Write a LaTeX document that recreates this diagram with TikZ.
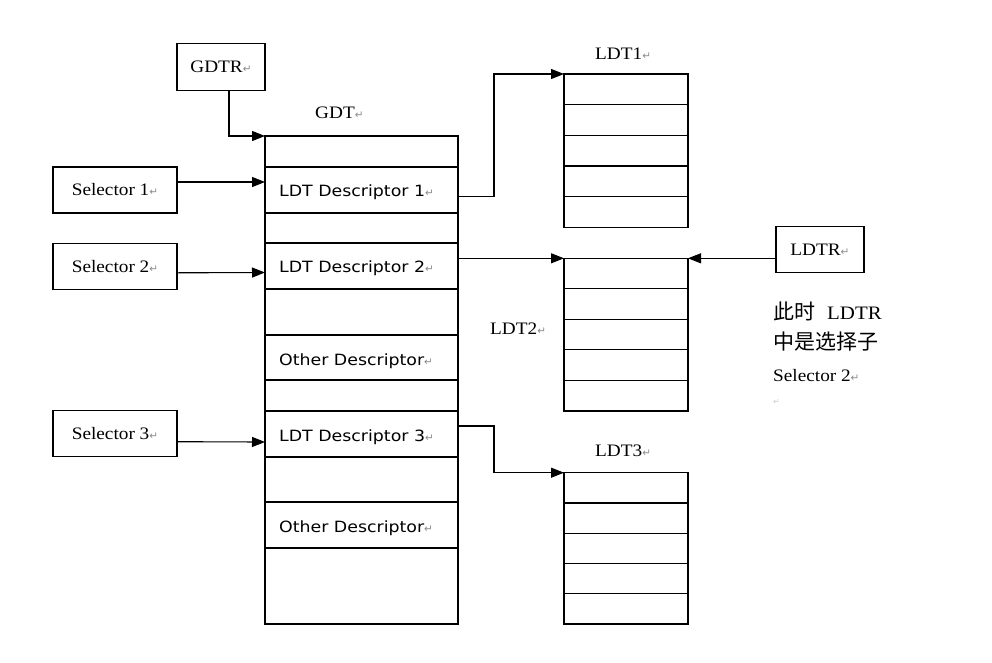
\documentclass[tikz,border=0pt]{standalone}
\usepackage{fontspec}
\usetikzlibrary{arrows.meta}
\newfontfamily\serf[FakeStretch=1.1]{Liberation Serif}
\newfontfamily\sanf[FakeStretch=1.12]{DejaVu Sans}
\newfontfamily\cjkf{Noto Sans CJK SC}
\newfontfamily\retfont{DejaVu Sans}
\newcommand\rmk{{\retfont\fontsize{10.5}{10.5}\selectfont\textcolor{black!45}{↵}}}
\begin{document}
\begin{tikzpicture}[x=1pt,y=-1pt,
  sbox/.style={draw,line width=1.1pt,inner sep=0,outer sep=0,font=\serf\fontsize{17.5}{20}\selectfont},
  gdtrow/.style={draw,line width=1.1pt,inner sep=0,outer sep=0,anchor=north west,minimum width=193pt},
  ldtrow/.style={draw,line width=1.1pt,inner sep=0,outer sep=0,anchor=north west,minimum width=124pt},
  arr/.style={line width=1.1pt,-{Triangle[length=13pt,width=10pt]}},
  lbl/.style={anchor=base west,inner sep=0,font=\serf\fontsize{17.5}{20}\selectfont},
  dlbl/.style={anchor=base west,inner sep=0,font=\sanf\fontsize{15.5}{18}\selectfont},
  cjk/.style={anchor=base west,inner sep=0,font=\cjkf\fontsize{21}{21}\selectfont}]
\path[fill=white] (0,0) rectangle (992,662);
\useasboundingbox (0,0) rectangle (992,662);

% GDT table
\foreach \t/\h [count=\i] in {136/31,167/46,213/30,243/46,289/46,335/45,380/31,411/46,457/45,502/46,548/76}
  \node[gdtrow,minimum height=\h pt] (g\i) at (265,\t) {};

% LDT tables
\foreach \n/\t/\h in {1/74/30.66,2/258.3/30.54,3/472.7/30.26}
  \foreach \k in {1,...,5}
    \node[ldtrow,minimum height=\h pt] (l\n-\k) at (564,{\t+(\k-1)*\h}) {};

% row texts
\node[dlbl] (t2) at ([xshift=14pt,yshift=-6.5pt]g2.west) {LDT Descriptor 1\rmk};
\node[dlbl] (t4) at ([xshift=14pt,yshift=-6.5pt]g4.west) {LDT Descriptor 2\rmk};
\node[dlbl] (t6) at ([xshift=14pt,yshift=-7.5pt]g6.west) {Other Descriptor\rmk};
\node[dlbl] (t8) at ([xshift=14pt,yshift=-7pt]g8.west) {LDT Descriptor 3\rmk};
\node[dlbl] (t10) at ([xshift=14pt,yshift=-7.5pt]g10.west) {Other Descriptor\rmk};

% titles
\node[lbl] (gdtlbl) at (315,118.3) {GDT\rmk};
\node[lbl] (ldt1lbl) at (595,59) {LDT1\rmk};
\node[lbl] (ldt2lbl) at (490,334) {LDT2\rmk};
\node[lbl] (ldt3lbl) at (595,456) {LDT3\rmk};

% boxes
\node[sbox,minimum width=88pt,minimum height=47.5pt] (gdtr) at (221,67) {GDTR\rmk};
\node[sbox,minimum width=88pt,minimum height=46pt] (ldtr) at (820,249.7) {LDTR\rmk};
\node[sbox,minimum width=124pt,minimum height=46pt] (sel1) at (115,190) {Selector 1\rmk};
\node[sbox,minimum width=124pt,minimum height=46pt] (sel2) at (115,266.3) {Selector 2\rmk};
\node[sbox,minimum width=124pt,minimum height=46pt] (sel3) at (115,433.7) {Selector 3\rmk};

% note
\node[lbl] (n1) at (773,319.5) {{\cjkf\fontsize{21}{21}\selectfont 此时}\hspace{12pt}{\fontsize{19}{20}\selectfont LDTR}};
\node[cjk] (n2) at (773,349) {中是选择子};
\node[lbl] (n3) at (773,381.7) {Selector 2\rmk};
\node[anchor=base west,inner sep=0,font=\retfont\fontsize{8}{8}\selectfont,text=black!20] (n4) at (773,404) {↵};

% connectors
\draw[arr] ([xshift=8pt]gdtr.south) |- (g1.north west);
\draw[arr] ([yshift=8pt]sel1.east) -- ([yshift=8pt]g2.west);
\draw[arr] ([yshift=-6.5pt]sel2.east) -- ([yshift=-6.5pt]g4.west);
\draw[arr] ([yshift=-8pt]sel3.east) -- ([yshift=-8pt]g8.west);
\draw[arr] ([yshift=-6.5pt]g2.east) -- ++(36,0) |- (l1-1.north west);
\draw[arr] (g4.east |- l2-1.north west) -- (l2-1.north west);
\draw[arr] (ldtr.west |- l2-1.north east) -- (l2-1.north east);
\draw[arr] ([yshift=8pt]g8.east) -- ++(36,0) |- (l3-1.north west);
\end{tikzpicture}
\end{document}
